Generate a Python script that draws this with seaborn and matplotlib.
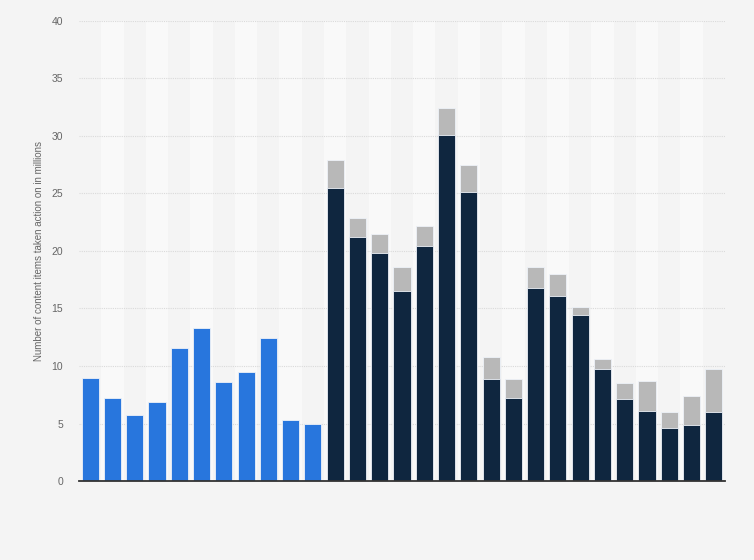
import pandas as pd
import seaborn as sns
import matplotlib.pyplot as plt

# Values (millions of content items)
periods = [f"P{i}" for i in range(1, 30)]

blue_periods = periods[:11]
blue_values = [8.95, 7.18, 5.76, 6.84, 11.53, 13.27, 8.58, 9.45, 12.4, 5.33, 4.93]

stack_periods = periods[11:]
dark_values = [25.5, 21.2, 19.8, 16.5, 20.4, 30.1, 25.1, 8.9, 7.2,
               16.8, 16.1, 14.4, 9.7, 7.1, 6.1, 4.6, 4.9, 6.0]
gray_values = [2.4, 1.7, 1.7, 2.1, 1.8, 2.3, 2.4, 1.9, 1.7,
               1.8, 1.9, 0.7, 0.9, 1.4, 2.6, 1.4, 2.5, 3.7]

y_ticks = [0, 5, 10, 15, 20, 25, 30, 35, 40]

BG = "#f4f4f4"
BLUE = "#2876dd"
NAVY = "#0f263f"
GRAY = "#b8b8b8"

sns.set_theme(style="white")
plt.rcParams['font.family'] = ['Liberation Sans', 'DejaVu Sans']

df_blue = pd.DataFrame({'period': blue_periods, 'value': blue_values})
df_stack = pd.DataFrame({'period': stack_periods, 'dark': dark_values, 'gray': gray_values})
df_stack['total'] = df_stack['dark'] + df_stack['gray']

fig = plt.figure(figsize=(7.54, 5.6), dpi=100, facecolor=BG)
ax = fig.add_axes([0.1048, 0.141, 0.8567, 0.822])
ax.set_facecolor(BG)

# alternating column bands
for i in range(len(periods)):
    if i % 2 == 1:
        ax.axvspan(i - 0.5, i + 0.5, color="#f9f9f9", zorder=0, lw=0)

bar_kw = dict(order=periods, width=0.77, edgecolor="#eef2f8", linewidth=0.6, ax=ax, zorder=3)
sns.barplot(data=df_blue, x='period', y='value', color=BLUE, saturation=1, **bar_kw)
sns.barplot(data=df_stack, x='period', y='total', color=GRAY, saturation=1, **bar_kw)
sns.barplot(data=df_stack, x='period', y='dark', color=NAVY, saturation=1, **bar_kw)

ax.set_xlim(-0.5, len(periods) - 0.5)
ax.set_ylim(0, 40)
ax.set_yticks(y_ticks)
ax.set_yticklabels([str(t) for t in y_ticks], fontsize=7.5, color="#666666")
ax.set_xticks([])
ax.tick_params(axis='y', length=0, pad=11.5)
ax.yaxis.grid(True, linestyle=(0, (1, 1)), color="#dadada", linewidth=0.8, zorder=1)
ax.set_axisbelow(True)

ax.set_xlabel('')
ax.set_ylabel('Number of content items taken action on in millions', fontsize=7, color="#666666", labelpad=5)

for side in ['top', 'right', 'left']:
    ax.spines[side].set_visible(False)
ax.spines['bottom'].set_color("#333333")
ax.spines['bottom'].set_linewidth(1.3)
ax.spines['bottom'].set_zorder(5)

fig.savefig('out.png', dpi=100, facecolor=BG)
